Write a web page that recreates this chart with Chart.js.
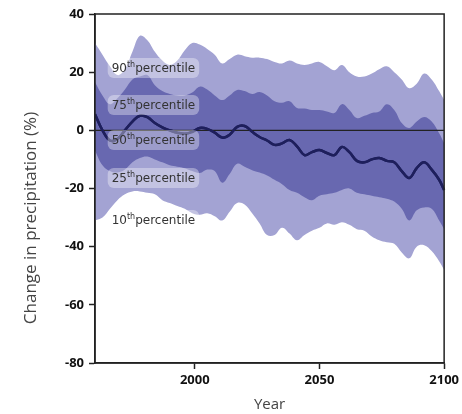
<!DOCTYPE html>
<html lang="en">
<head>
  <meta charset="UTF-8" />
  <title>Change in precipitation</title>
  <script src="https://cdn.jsdelivr.net/npm/chart.js"></script>
  <style>
    html, body { margin: 0; background: #fff; }
    #wrap { width: 462px; height: 414px; }
  </style>
</head>
<body>
<div id="wrap"><canvas id="chart" width="462" height="414"></canvas></div>
<script>
const years = [1960, 1963, 1966, 1969, 1972, 1975, 1978, 1981, 1984, 1987, 1990, 1993, 1996, 1999,
  2002, 2005, 2008, 2011, 2014, 2017, 2020, 2023, 2026, 2029, 2032, 2035, 2038, 2041, 2044, 2047,
  2050, 2053, 2056, 2059, 2062, 2065, 2068, 2071, 2074, 2077, 2080, 2083, 2086, 2089, 2092, 2095, 2098, 2100];

const p90 = [30, 26, 22, 19, 21, 27, 32.5, 31, 27, 24, 22.5, 24, 27.5, 30,
  29.5, 28, 26, 23, 24.5, 26, 25.5, 25, 25, 24.5, 23.5, 23, 24, 23, 22.5, 23,
  23.5, 22, 20.7, 22.5, 20, 18.5, 18.5, 19.5, 21, 22, 20, 17.5, 14.5, 16, 19.5, 17.5, 13.5, 10.4];

const p75 = [16.5, 12, 9, 11, 14, 17.5, 18.5, 19, 15.5, 13.5, 12.5, 12, 12, 13,
  15, 14, 12, 10.4, 12, 13.9, 13.5, 12.5, 13.2, 12, 10, 9.5, 10, 7.7, 7.5, 7,
  7, 6.5, 6, 9, 7, 4.2, 5, 6, 6.5, 9, 7, 2.5, 0.8, 3, 4.6, 3, -1, -4.4];

const p50 = [5.5, 0, -3.5, -3, 0, 3, 5, 4.5, 2.5, 1, 0, -0.8, -1.2, -0.5,
  0.8, 0.5, -0.8, -2.5, -1.5, 1.2, 1.5, -0.5, -2.3, -3.5, -5, -4.5, -3.3, -5.5, -8.5, -7.5,
  -6.8, -7.8, -8.5, -5.7, -7.5, -10.5, -11, -10, -9.5, -10.5, -11, -14, -16.4, -13, -11, -13.5, -17, -20.5];

const p25 = [-7, -12, -14, -14.5, -13.5, -11, -9.5, -9, -10, -11, -12, -12.5, -13, -14,
  -14.7, -13.5, -14, -18, -15, -11.5, -12.5, -13.7, -14.5, -15.5, -17, -18.5, -20.5, -21.5, -23, -24,
  -22.5, -22, -21.5, -20.5, -20, -21.5, -22, -22.5, -23, -23.5, -24.5, -27, -31, -27.5, -26.5, -27, -31, -34];

const p10 = [-31, -30, -27, -24, -22, -21, -21, -21.5, -22, -24, -25, -26, -27, -28.5,
  -29, -28.5, -29.5, -31, -28, -25, -25.5, -28.5, -32, -36, -36, -33.5, -35.5, -37.8, -36, -34.5,
  -33.5, -32, -32.5, -31.6, -32.5, -34, -34.5, -36.5, -37.8, -38.5, -39, -42, -44, -40, -39.5, -41.5, -45, -48];

const xTicks = [2000, 2050, 2100];
const yTicks = [-80, -60, -40, -20, 0, 20, 40];
const yTitle = 'Change in precipitation (%)';

// band labels: percentile, anchor year, value
const labelPct = ['90', '75', '50', '25', '10'];
const labelYear = 1966.7;
const labelVal = [21.4, 8.7, -3.3, -16.4, -30.8];

const LIGHT = 'rgb(163,163,211)';
const DARK = 'rgb(104,104,176)';
const LINE = '#1e1f5c';

function pts(arr) {
  return years.map((y, i) => ({ x: y, y: arr[i] }));
}

const frame = {
  id: 'frame',
  afterDatasetsDraw(chart) {
    const { ctx, chartArea: a, scales } = chart;
    const y0 = scales.y.getPixelForValue(0);
    ctx.save();
    ctx.strokeStyle = '#222';
    ctx.lineWidth = 1.2;
    ctx.beginPath();
    ctx.moveTo(a.left, y0);
    ctx.lineTo(a.right, y0);
    ctx.stroke();

    // median line on top of the zero line
    const meta = chart.getDatasetMeta(2);
    meta.dataset.draw(ctx, a);

    // percentile labels
    labelPct.forEach((p, i) => {
      const x = scales.x.getPixelForValue(labelYear);
      const y = scales.y.getPixelForValue(labelVal[i]);
      ctx.font = '12px "DejaVu Sans"';
      const w1 = ctx.measureText(p).width;
      const w3 = ctx.measureText('percentile').width;
      ctx.font = '8px "DejaVu Sans"';
      const w2 = ctx.measureText('th').width;
      const w = w1 + w2 + w3;
      ctx.fillStyle = 'rgba(255,255,255,0.35)';
      ctx.beginPath();
      ctx.roundRect(x - 4, y - 10, w + 8, 20, 6);
      ctx.fill();
      ctx.fillStyle = '#333';
      ctx.textBaseline = 'middle';
      ctx.font = '12px "DejaVu Sans"';
      ctx.fillText(p, x, y + 1);
      ctx.font = '8px "DejaVu Sans"';
      ctx.fillText('th', x + w1, y - 3);
      ctx.font = '12px "DejaVu Sans"';
      ctx.fillText('percentile', x + w1 + w2, y + 1);
    });

    ctx.strokeStyle = '#222';
    ctx.lineWidth = 1.5;
    ctx.strokeRect(a.left, a.top, a.right - a.left, a.bottom - a.top);

    // y axis title, sits a little below the plot centre in the original
    ctx.translate(31, 218);
    ctx.rotate(-Math.PI / 2);
    ctx.fillStyle = '#444';
    ctx.font = '17px "Open Sans"';
    ctx.textAlign = 'center';
    ctx.textBaseline = 'middle';
    ctx.fillText(yTitle, 0, 0);
    ctx.restore();
  }
};

const ctx = document.getElementById('chart').getContext('2d');
new Chart(ctx, {
  type: 'line',
  data: {
    datasets: [
      { data: pts(p90), fill: 4, backgroundColor: LIGHT, borderWidth: 0, order: 3 },
      { data: pts(p75), fill: 3, backgroundColor: DARK, borderWidth: 0, order: 2 },
      { data: pts(p50), fill: false, borderColor: LINE, borderWidth: 2.5, order: 1 },
      { data: pts(p25), fill: false, borderWidth: 0, order: 4 },
      { data: pts(p10), fill: false, borderWidth: 0, order: 5 }
    ]
  },
  options: {
    responsive: false,
    animation: false,
    events: [],
    layout: { padding: { top: 14, right: 17, left: 0, bottom: 0 } },
    elements: { point: { radius: 0 }, line: { tension: 0.4, borderColor: 'rgba(0,0,0,0)' } },
    plugins: { legend: { display: false }, tooltip: { enabled: false } },
    scales: {
      x: {
        type: 'linear',
        min: 1960,
        max: 2100,
        grid: { display: true, drawOnChartArea: false, drawTicks: true, tickLength: 6, tickColor: '#222', tickWidth: 1.5 },
        border: { color: '#222', width: 1.5 },
        afterBuildTicks: s => { s.ticks = xTicks.map(v => ({ value: v })); },
        afterFit: s => { s.height = 51; },
        ticks: { color: '#111', font: { family: 'Open Sans', weight: 'bold', size: 13 }, padding: 3, maxRotation: 0,
          callback: v => String(v) },
        title: { display: true, text: 'Year', color: '#444', font: { family: 'Open Sans', size: 15 }, padding: 0 }
      },
      y: {
        min: -80,
        max: 40,
        grid: { display: true, drawOnChartArea: false, drawTicks: true, tickLength: 6, tickColor: '#222', tickWidth: 1.5 },
        border: { color: '#222', width: 1.5 },
        afterBuildTicks: s => { s.ticks = yTicks.map(v => ({ value: v })); },
        afterFit: s => { s.width = 95; },
        ticks: { color: '#111', font: { family: 'Open Sans', weight: 'bold', size: 13 }, padding: 5,
          callback: v => String(v) },
        title: { display: false }
      }
    }
  },
  plugins: [frame]
});
</script>
</body>
</html>
